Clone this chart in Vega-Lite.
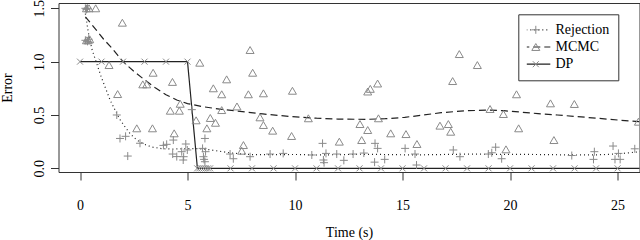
{
  "$schema": "https://vega.github.io/schema/vega-lite/v6.json",
  "width": 581,
  "height": 169,
  "autosize": {"type": "none"},
  "padding": {"left": 58.5, "top": 3, "right": 0.5, "bottom": 68},
  "background": "white",
  "config": {
    "font": "Liberation Serif",
    "view": {"stroke": "#333", "strokeWidth": 1},
    "axis": {
      "grid": false, "domain": false, "tickColor": "#333", "tickSize": 8, "tickWidth": 1,
      "labelFont": "Liberation Serif", "labelFontSize": 14, "labelColor": "black",
      "titleFont": "Liberation Serif", "titleFontSize": 14, "titleFontWeight": "normal", "titleColor": "black"
    }
  },
  "layer": [
    {
      "data": {"values": [
        {"method":"Rejection","time":0.25,"error":1.45},{"method":"Rejection","time":0.39,"error":1.27},{"method":"Rejection","time":0.55,"error":1.12},{"method":"Rejection","time":0.78,"error":0.98},{"method":"Rejection","time":1.0,"error":0.85},{"method":"Rejection","time":1.16,"error":0.765},{"method":"Rejection","time":1.4,"error":0.64},{"method":"Rejection","time":1.63,"error":0.546},{"method":"Rejection","time":1.85,"error":0.46},{"method":"Rejection","time":2.09,"error":0.39},{"method":"Rejection","time":2.35,"error":0.32},{"method":"Rejection","time":2.64,"error":0.265},{"method":"Rejection","time":3.0,"error":0.225},{"method":"Rejection","time":3.33,"error":0.2},{"method":"Rejection","time":3.8,"error":0.185},{"method":"Rejection","time":4.3,"error":0.18},{"method":"Rejection","time":4.9,"error":0.185},{"method":"Rejection","time":5.5,"error":0.185},{"method":"Rejection","time":6.0,"error":0.175},{"method":"Rejection","time":6.5,"error":0.16},{"method":"Rejection","time":7.0,"error":0.145},{"method":"Rejection","time":7.5,"error":0.135},{"method":"Rejection","time":8.0,"error":0.128},{"method":"Rejection","time":9.0,"error":0.128},{"method":"Rejection","time":10.0,"error":0.13},{"method":"Rejection","time":11.0,"error":0.125},{"method":"Rejection","time":12.0,"error":0.128},{"method":"Rejection","time":13.0,"error":0.132},{"method":"Rejection","time":14.0,"error":0.13},{"method":"Rejection","time":15.0,"error":0.127},{"method":"Rejection","time":16.0,"error":0.127},{"method":"Rejection","time":17.0,"error":0.13},{"method":"Rejection","time":18.0,"error":0.133},{"method":"Rejection","time":19.0,"error":0.132},{"method":"Rejection","time":20.0,"error":0.13},{"method":"Rejection","time":21.0,"error":0.13},{"method":"Rejection","time":22.0,"error":0.128},{"method":"Rejection","time":23.0,"error":0.125},{"method":"Rejection","time":24.0,"error":0.126},{"method":"Rejection","time":25.0,"error":0.135},{"method":"Rejection","time":26.0,"error":0.155},{"method":"Rejection","time":27.0,"error":0.18},
        {"method":"MCMC","time":0.25,"error":1.42},{"method":"MCMC","time":0.5,"error":1.36},{"method":"MCMC","time":0.78,"error":1.29},{"method":"MCMC","time":1.1,"error":1.21},{"method":"MCMC","time":1.47,"error":1.13},{"method":"MCMC","time":1.75,"error":1.06},{"method":"MCMC","time":2.0,"error":1.0},{"method":"MCMC","time":2.5,"error":0.91},{"method":"MCMC","time":3.0,"error":0.83},{"method":"MCMC","time":3.5,"error":0.755},{"method":"MCMC","time":4.0,"error":0.69},{"method":"MCMC","time":4.5,"error":0.64},{"method":"MCMC","time":5.0,"error":0.607},{"method":"MCMC","time":5.7,"error":0.578},{"method":"MCMC","time":6.5,"error":0.555},{"method":"MCMC","time":7.3,"error":0.537},{"method":"MCMC","time":8.5,"error":0.51},{"method":"MCMC","time":9.8,"error":0.485},{"method":"MCMC","time":11.0,"error":0.47},{"method":"MCMC","time":12.0,"error":0.462},{"method":"MCMC","time":13.3,"error":0.459},{"method":"MCMC","time":14.2,"error":0.465},{"method":"MCMC","time":15.1,"error":0.478},{"method":"MCMC","time":16.0,"error":0.5},{"method":"MCMC","time":16.8,"error":0.522},{"method":"MCMC","time":18.0,"error":0.54},{"method":"MCMC","time":19.0,"error":0.546},{"method":"MCMC","time":19.7,"error":0.54},{"method":"MCMC","time":20.5,"error":0.527},{"method":"MCMC","time":21.3,"error":0.513},{"method":"MCMC","time":22.2,"error":0.5},{"method":"MCMC","time":23.1,"error":0.485},{"method":"MCMC","time":24.1,"error":0.469},{"method":"MCMC","time":25.0,"error":0.453},{"method":"MCMC","time":26.0,"error":0.437},{"method":"MCMC","time":27.0,"error":0.42},
        {"method":"DP","time":0,"error":1},{"method":"DP","time":5.0,"error":1},{"method":"DP","time":5.46,"error":0},{"method":"DP","time":27,"error":0}
      ]},
      "mark": {"type": "line", "color": "#222", "strokeWidth": 1.2, "clip": true},
      "encoding": {
        "x": {"field": "time", "type": "quantitative", "scale": {"domain": [-1.0, 26.02], "nice": false, "zero": false},
          "axis": {"values": [0, 5, 10, 15, 20, 25], "title": "Time (s)", "labelBaseline": "alphabetic", "labelPadding": 29, "titleBaseline": "alphabetic", "titleY": 64}},
        "y": {"field": "error", "type": "quantitative", "scale": {"domain": [-0.0344, 1.5497], "nice": false, "zero": false},
          "axis": {"values": [0, 0.5, 1, 1.5], "format": ".1f", "title": "Error", "labelAngle": -90, "labelAlign": "center", "labelBaseline": "alphabetic", "labelPadding": 7.5, "titleBaseline": "alphabetic", "titleX": -46.8}},
        "strokeDash": {"field": "method", "type": "nominal", "sort": ["Rejection", "MCMC", "DP"],
          "scale": {"range": [[1, 3], [7, 4], [1, 0]]},
          "legend": {"title": null, "orient": "none", "legendX": 459.8, "legendY": 11.3, "padding": 8.5, "rowPadding": 3.2, "clipHeight": 14,
            "labelFont": "Liberation Serif", "labelFontSize": 14, "labelColor": "black", "labelOffset": 4.2, "symbolOffset": -5.5,
            "symbolSize": 784, "symbolStrokeWidth": 1.2, "symbolStrokeColor": "#222", "strokeColor": "#333", "fillColor": "white", "zindex": 0,
            "labelExpr": "datum.label + '\u00a0\u00a0'"}}
      }
    },
    {
      "data": {"values": [
        {"method":"Rejection","time":0.25,"error":1.5},{"method":"Rejection","time":0.3,"error":1.49},{"method":"Rejection","time":0.35,"error":1.5},{"method":"Rejection","time":0.25,"error":1.2},{"method":"Rejection","time":0.35,"error":1.19},{"method":"Rejection","time":0.4,"error":1.21},
        {"method":"Rejection","time":1.71,"error":0.5},{"method":"Rejection","time":1.86,"error":0.28},{"method":"Rejection","time":2.12,"error":0.3},{"method":"Rejection","time":2.22,"error":0.115},{"method":"Rejection","time":2.79,"error":0.235},{"method":"Rejection","time":3.88,"error":0.215},{"method":"Rejection","time":4.03,"error":0.225},{"method":"Rejection","time":4.34,"error":0.265},{"method":"Rejection","time":4.31,"error":0.134},{"method":"Rejection","time":4.5,"error":0.11},{"method":"Rejection","time":4.73,"error":0.156},{"method":"Rejection","time":4.8,"error":0.078},{"method":"Rejection","time":4.82,"error":0.109},{"method":"Rejection","time":4.92,"error":0.228},{"method":"Rejection","time":4.99,"error":0.172},{"method":"Rejection","time":5.2,"error":0.55},{"method":"Rejection","time":5.7,"error":0.187},{"method":"Rejection","time":5.81,"error":0.28},{"method":"Rejection","time":5.77,"error":0.084},{"method":"Rejection","time":5.84,"error":0.156},{"method":"Rejection","time":5.81,"error":0.062},{"method":"Rejection","time":5.74,"error":0.109},{"method":"Rejection","time":6.98,"error":0.134},{"method":"Rejection","time":7.13,"error":0.09},{"method":"Rejection","time":7.91,"error":0.109},{"method":"Rejection","time":8.84,"error":0.134},{"method":"Rejection","time":9.45,"error":0.14},{"method":"Rejection","time":10.78,"error":0.125},{"method":"Rejection","time":11.28,"error":0.234},{"method":"Rejection","time":11.44,"error":0.14},{"method":"Rejection","time":11.32,"error":0.078},{"method":"Rejection","time":11.35,"error":0.053},{"method":"Rejection","time":11.94,"error":0.134},{"method":"Rejection","time":12.27,"error":0.075},{"method":"Rejection","time":12.7,"error":0.134},{"method":"Rejection","time":13.2,"error":0.143},{"method":"Rejection","time":13.72,"error":0.234},{"method":"Rejection","time":13.84,"error":0.187},{"method":"Rejection","time":13.7,"error":0.058},{"method":"Rejection","time":14.17,"error":0.084},{"method":"Rejection","time":15.12,"error":0.187},{"method":"Rejection","time":15.58,"error":0.134},{"method":"Rejection","time":15.65,"error":0.031},{"method":"Rejection","time":17.36,"error":0.172},{"method":"Rejection","time":17.67,"error":0.109},{"method":"Rejection","time":18.99,"error":0.134},{"method":"Rejection","time":19.15,"error":0.146},{"method":"Rejection","time":19.33,"error":0.198},{"method":"Rejection","time":19.61,"error":0.09},{"method":"Rejection","time":22.87,"error":0.12},{"method":"Rejection","time":23.92,"error":0.156},{"method":"Rejection","time":23.88,"error":0.084},{"method":"Rejection","time":24.79,"error":0.209},{"method":"Rejection","time":25.04,"error":0.14},{"method":"Rejection","time":24.88,"error":0.084},{"method":"Rejection","time":25.12,"error":0.084},{"method":"Rejection","time":25.8,"error":0.183},
        {"method":"MCMC","time":0.3,"error":1.5},{"method":"MCMC","time":0.42,"error":1.5},{"method":"MCMC","time":0.73,"error":1.5},{"method":"MCMC","time":0.3,"error":1.2},{"method":"MCMC","time":0.38,"error":1.2},{"method":"MCMC","time":0.45,"error":1.21},
        {"method":"MCMC","time":1.97,"error":1.365},{"method":"MCMC","time":1.35,"error":0.968},{"method":"MCMC","time":3.4,"error":0.896},{"method":"MCMC","time":2.92,"error":0.787},{"method":"MCMC","time":3.1,"error":0.787},{"method":"MCMC","time":1.75,"error":0.696},{"method":"MCMC","time":4.3,"error":0.81},{"method":"MCMC","time":4.2,"error":0.54},{"method":"MCMC","time":4.62,"error":0.54},{"method":"MCMC","time":4.66,"error":0.605},{"method":"MCMC","time":2.64,"error":0.375},{"method":"MCMC","time":3.37,"error":0.375},{"method":"MCMC","time":4.38,"error":0.328},{"method":"MCMC","time":5.57,"error":0.99},{"method":"MCMC","time":6.2,"error":0.75},{"method":"MCMC","time":5.4,"error":0.45},{"method":"MCMC","time":5.9,"error":0.375},{"method":"MCMC","time":6.06,"error":0.472},{"method":"MCMC","time":6.3,"error":0.427},{"method":"MCMC","time":7.91,"error":1.109},{"method":"MCMC","time":8.03,"error":0.896},{"method":"MCMC","time":6.82,"error":0.834},{"method":"MCMC","time":6.59,"error":0.694},{"method":"MCMC","time":7.83,"error":0.694},{"method":"MCMC","time":8.53,"error":0.703},{"method":"MCMC","time":6.59,"error":0.546},{"method":"MCMC","time":7.3,"error":0.58},{"method":"MCMC","time":8.37,"error":0.478},{"method":"MCMC","time":8.53,"error":0.406},{"method":"MCMC","time":8.96,"error":0.353},{"method":"MCMC","time":7.6,"error":0.218},{"method":"MCMC","time":7.52,"error":0.165},{"method":"MCMC","time":9.88,"error":0.727},{"method":"MCMC","time":9.84,"error":0.303},{"method":"MCMC","time":10.62,"error":0.469},{"method":"MCMC","time":12.06,"error":0.25},{"method":"MCMC","time":13.02,"error":0.415},{"method":"MCMC","time":13.38,"error":0.359},{"method":"MCMC","time":13.1,"error":0.265},{"method":"MCMC","time":13.38,"error":0.72},{"method":"MCMC","time":13.5,"error":0.745},{"method":"MCMC","time":13.84,"error":0.795},{"method":"MCMC","time":13.88,"error":0.469},{"method":"MCMC","time":14.45,"error":0.328},{"method":"MCMC","time":15.16,"error":0.321},{"method":"MCMC","time":15.67,"error":0.228},{"method":"MCMC","time":17.64,"error":1.071},{"method":"MCMC","time":18.48,"error":0.968},{"method":"MCMC","time":17.33,"error":0.818},{"method":"MCMC","time":16.74,"error":0.4},{"method":"MCMC","time":17.13,"error":0.415},{"method":"MCMC","time":17.24,"error":0.343},{"method":"MCMC","time":19.07,"error":0.556},{"method":"MCMC","time":19.69,"error":0.509},{"method":"MCMC","time":19.81,"error":0.178},{"method":"MCMC","time":20.3,"error":0.694},{"method":"MCMC","time":20.4,"error":0.375},{"method":"MCMC","time":22.04,"error":0.265},{"method":"MCMC","time":21.88,"error":0.609},{"method":"MCMC","time":22.99,"error":0.603},{"method":"MCMC","time":25.97,"error":0.437},
        {"method":"DP","time":0,"error":1},{"method":"DP","time":1,"error":1},{"method":"DP","time":2,"error":1},{"method":"DP","time":3,"error":1},{"method":"DP","time":4,"error":1},{"method":"DP","time":5,"error":1},
        {"method":"DP","time":5.45,"error":0},{"method":"DP","time":5.55,"error":0},{"method":"DP","time":5.65,"error":0},{"method":"DP","time":5.75,"error":0},{"method":"DP","time":5.85,"error":0},{"method":"DP","time":5.95,"error":0},{"method":"DP","time":6.05,"error":0},
        {"method":"DP","time":7,"error":0},{"method":"DP","time":8,"error":0},{"method":"DP","time":9,"error":0},{"method":"DP","time":10,"error":0},{"method":"DP","time":11,"error":0},{"method":"DP","time":12,"error":0},{"method":"DP","time":13,"error":0},{"method":"DP","time":14,"error":0},{"method":"DP","time":15,"error":0},{"method":"DP","time":16,"error":0},{"method":"DP","time":17,"error":0},{"method":"DP","time":18,"error":0},{"method":"DP","time":19,"error":0},{"method":"DP","time":20,"error":0},{"method":"DP","time":21,"error":0},{"method":"DP","time":22,"error":0},{"method":"DP","time":23,"error":0},{"method":"DP","time":24,"error":0},{"method":"DP","time":25,"error":0}
      ]},
      "mark": {"type": "point", "filled": false, "color": "#8a8a8a", "strokeWidth": 1, "size": 64, "opacity": 1, "clip": true},
      "encoding": {
        "x": {"field": "time", "type": "quantitative"},
        "y": {"field": "error", "type": "quantitative"},
        "shape": {"field": "method", "type": "nominal", "sort": ["Rejection", "MCMC", "DP"],
          "scale": {"range": ["M-1,0H1M0,-1V1", "triangle-up", "M-0.75,-0.75L0.75,0.75M-0.75,0.75L0.75,-0.75"]},
          "legend": {"title": null, "orient": "none", "legendX": 461.8, "legendY": 11.3, "padding": 8.5, "rowPadding": 3.2, "clipHeight": 14,
            "labelFont": "Liberation Serif", "labelFontSize": 14, "labelOpacity": 0, "labelExpr": "'\u00a0'",
            "symbolSize": 64, "symbolStrokeWidth": 1, "symbolStrokeColor": "#8a8a8a", "symbolFillColor": "transparent", "symbolOpacity": 1, "zindex": 1}}
      }
    }
  ]
}
